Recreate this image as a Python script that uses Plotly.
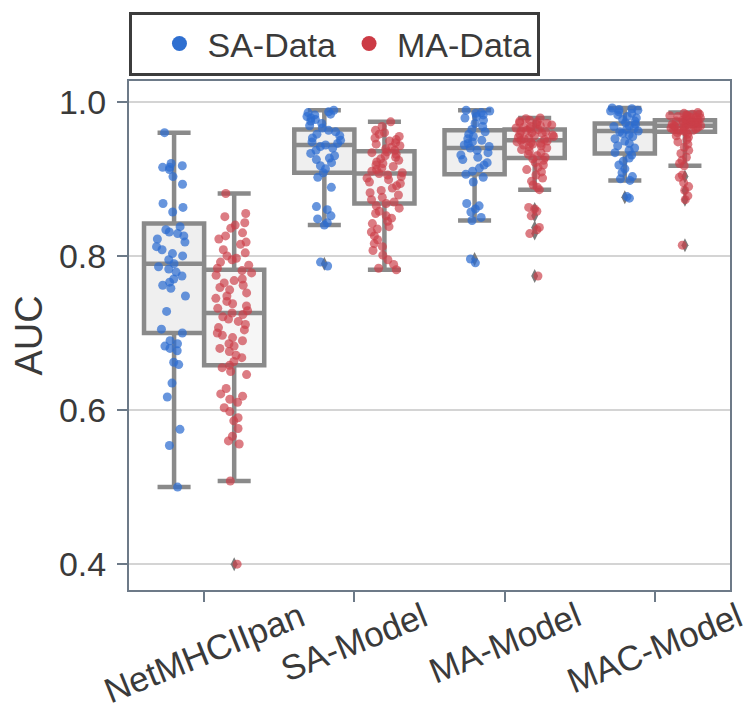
import plotly.graph_objects as go

categories = ["NetMHCIIpan", "SA-Model", "MA-Model", "MAC-Model"]
series_names = ["SA-Data", "MA-Data"]

# ---- box statistics ----
sa_q1 = [0.700, 0.908, 0.906, 0.933]
sa_median = [0.790, 0.944, 0.940, 0.962]
sa_q3 = [0.842, 0.964, 0.963, 0.972]
sa_lower = [0.500, 0.840, 0.846, 0.898]
sa_upper = [0.960, 0.989, 0.989, 0.992]

ma_q1 = [0.658, 0.868, 0.927, 0.961]
ma_median = [0.726, 0.907, 0.950, 0.969]
ma_q3 = [0.782, 0.936, 0.964, 0.976]
ma_lower = [0.508, 0.782, 0.886, 0.917]
ma_upper = [0.881, 0.974, 0.979, 0.986]

# ---- outliers (fliers) ----
sa_out_net = []
sa_out_sa = [0.790]
sa_out_ma = [0.796]
sa_out_mac = [0.876]
ma_out_net = [0.400]
ma_out_sa = []
ma_out_ma = [0.861, 0.852, 0.837, 0.829, 0.774]
ma_out_mac = [0.903, 0.885, 0.873, 0.814]

# ---- individual points (SA-Data) ----
sa_pts_net = [0.960, 0.920, 0.917, 0.915, 0.915, 0.912, 0.903, 0.893, 0.868, 0.863, 0.857, 0.838,
              0.834, 0.831, 0.829, 0.826, 0.822, 0.818, 0.812, 0.808, 0.803, 0.800, 0.795, 0.790,
              0.786, 0.783, 0.779, 0.774, 0.770, 0.766, 0.762, 0.758, 0.748, 0.728, 0.705, 0.700,
              0.690, 0.686, 0.683, 0.680, 0.677, 0.662, 0.659, 0.635, 0.617, 0.575, 0.554, 0.500]
sa_pts_sa = [0.989, 0.987, 0.986, 0.984, 0.983, 0.981, 0.979, 0.977, 0.975, 0.972, 0.969, 0.966,
             0.963, 0.961, 0.958, 0.956, 0.953, 0.950, 0.948, 0.946, 0.944, 0.942, 0.940, 0.937,
             0.933, 0.930, 0.927, 0.925, 0.921, 0.917, 0.913, 0.908, 0.902, 0.889, 0.864, 0.860,
             0.852, 0.848, 0.843, 0.840, 0.792, 0.787]
sa_pts_ma = [0.989, 0.988, 0.986, 0.985, 0.983, 0.981, 0.979, 0.976, 0.972, 0.968, 0.964, 0.961,
             0.958, 0.955, 0.952, 0.950, 0.948, 0.946, 0.944, 0.942, 0.940, 0.937, 0.934, 0.931,
             0.928, 0.925, 0.921, 0.918, 0.914, 0.910, 0.906, 0.902, 0.896, 0.868, 0.865, 0.861,
             0.857, 0.850, 0.846, 0.796, 0.791]
sa_pts_mac = [0.992, 0.991, 0.990, 0.989, 0.988, 0.987, 0.985, 0.983, 0.981, 0.979, 0.977, 0.975,
              0.973, 0.971, 0.969, 0.968, 0.966, 0.964, 0.962, 0.961, 0.959, 0.957, 0.955, 0.952,
              0.949, 0.946, 0.943, 0.940, 0.937, 0.934, 0.931, 0.927, 0.923, 0.918, 0.913, 0.908,
              0.903, 0.900, 0.898, 0.877, 0.875]

# ---- individual points (MA-Data) ----
ma_pts_net = [0.881, 0.855, 0.851, 0.843, 0.840, 0.836, 0.830, 0.826, 0.822, 0.818, 0.815, 0.808,
              0.804, 0.800, 0.797, 0.795, 0.792, 0.788, 0.784, 0.781, 0.778, 0.775, 0.770, 0.768,
              0.765, 0.762, 0.759, 0.756, 0.752, 0.748, 0.745, 0.741, 0.738, 0.735, 0.732, 0.729,
              0.726, 0.724, 0.721, 0.718, 0.715, 0.711, 0.707, 0.704, 0.700, 0.697, 0.694, 0.690,
              0.686, 0.683, 0.680, 0.676, 0.671, 0.668, 0.663, 0.658, 0.655, 0.650, 0.646, 0.628,
              0.621, 0.618, 0.614, 0.610, 0.603, 0.598, 0.590, 0.586, 0.576, 0.566, 0.560, 0.556,
              0.508, 0.400]
ma_pts_sa = [0.974, 0.968, 0.963, 0.960, 0.958, 0.955, 0.953, 0.951, 0.949, 0.947, 0.945, 0.943,
             0.941, 0.939, 0.937, 0.935, 0.934, 0.932, 0.930, 0.928, 0.926, 0.924, 0.922, 0.920,
             0.918, 0.916, 0.914, 0.912, 0.910, 0.908, 0.907, 0.905, 0.903, 0.901, 0.899, 0.896,
             0.894, 0.891, 0.888, 0.885, 0.882, 0.879, 0.876, 0.873, 0.870, 0.868, 0.865, 0.862,
             0.858, 0.855, 0.852, 0.849, 0.845, 0.842, 0.838, 0.835, 0.831, 0.826, 0.821, 0.816,
             0.812, 0.807, 0.801, 0.795, 0.789, 0.784, 0.782]
ma_pts_ma = [0.979, 0.978, 0.976, 0.975, 0.974, 0.973, 0.972, 0.971, 0.970, 0.969, 0.968, 0.967,
             0.966, 0.965, 0.964, 0.963, 0.962, 0.961, 0.960, 0.959, 0.958, 0.957, 0.956, 0.955,
             0.954, 0.953, 0.952, 0.951, 0.950, 0.949, 0.948, 0.947, 0.946, 0.945, 0.944, 0.943,
             0.942, 0.940, 0.938, 0.936, 0.934, 0.932, 0.930, 0.928, 0.926, 0.924, 0.921, 0.918,
             0.915, 0.912, 0.909, 0.905, 0.901, 0.897, 0.892, 0.889, 0.886, 0.863, 0.861, 0.858,
             0.852, 0.837, 0.834, 0.829, 0.774]
ma_pts_mac = [0.986, 0.985, 0.984, 0.984, 0.983, 0.982, 0.982, 0.981, 0.980, 0.980, 0.979, 0.978,
              0.978, 0.977, 0.976, 0.976, 0.975, 0.975, 0.974, 0.973, 0.973, 0.972, 0.971, 0.971,
              0.970, 0.970, 0.969, 0.969, 0.968, 0.968, 0.967, 0.966, 0.966, 0.965, 0.964, 0.963,
              0.963, 0.962, 0.961, 0.960, 0.958, 0.956, 0.954, 0.951, 0.948, 0.945, 0.941, 0.937,
              0.933, 0.928, 0.924, 0.920, 0.917, 0.905, 0.902, 0.895, 0.890, 0.885, 0.878, 0.873,
              0.814]

# ---- styles ----
FONT = "Liberation Sans, Arial, sans-serif"
TEXT = "#3a3a3a"
FRAME = "#6d7a88"
BOX_LINE = "#8a8a8a"
SA_COLOR = "rgba(45,108,208,0.72)"
MA_COLOR = "rgba(204,62,72,0.68)"
SA_LEGEND = "#2f6fd0"
MA_LEGEND = "#cc3b45"
CLEAR = "rgba(0,0,0,0)"


def flatten(groups):
    xs, ys = [], []
    for cat, vals in zip(categories, groups):
        xs += [cat] * len(vals)
        ys += list(vals)
    return xs, ys


fig = go.Figure()

stats = [
    ("SA", sa_q1, sa_median, sa_q3, sa_lower, sa_upper, "#efefef"),
    ("MA", ma_q1, ma_median, ma_q3, ma_lower, ma_upper, "#f6f6f6"),
]
for grp, q1, med, q3, lo, hi, fill in stats:
    fig.add_trace(go.Box(
        x=categories, q1=q1, median=med, q3=q3, lowerfence=lo, upperfence=hi,
        offsetgroup=grp, alignmentgroup="g", boxpoints=False,
        fillcolor=fill, line=dict(color=BOX_LINE, width=4.5), whiskerwidth=0.55,
        showlegend=False, hoverinfo="skip",
    ))

# fliers (diamonds)
outs = [
    ("SA", [sa_out_net, sa_out_sa, sa_out_ma, sa_out_mac]),
    ("MA", [ma_out_net, ma_out_sa, ma_out_ma, ma_out_mac]),
]
for grp, groups in outs:
    xs, ys = flatten(groups)
    fig.add_trace(go.Box(
        x=xs, y=ys, offsetgroup=grp, alignmentgroup="g",
        boxpoints="all", jitter=0, pointpos=0,
        fillcolor=CLEAR, line=dict(color=CLEAR, width=0),
        marker=dict(symbol="diamond-tall", size=10, color="#7b7b7b"),
        showlegend=False, hoverinfo="skip",
    ))

# strip points
pts = [
    ("SA", [sa_pts_net, sa_pts_sa, sa_pts_ma, sa_pts_mac], SA_COLOR),
    ("MA", [ma_pts_net, ma_pts_sa, ma_pts_ma, ma_pts_mac], MA_COLOR),
]
for grp, groups, col in pts:
    xs, ys = flatten(groups)
    fig.add_trace(go.Box(
        x=xs, y=ys, offsetgroup=grp, alignmentgroup="g",
        boxpoints="all", jitter=0.65, pointpos=0,
        fillcolor=CLEAR, line=dict(color=CLEAR, width=0),
        marker=dict(size=9, color=col, line=dict(width=0)),
        showlegend=False, hoverinfo="y",
    ))

# legend entries
for name, col in zip(series_names, [SA_LEGEND, MA_LEGEND]):
    fig.add_trace(go.Scatter(
        x=[None], y=[None], mode="markers", name=name,
        marker=dict(size=15, color=col),
    ))

# rotated category labels, centred on their ticks
for cat in categories:
    fig.add_annotation(
        x=cat, xref="x", y=-0.004, yref="paper", text=cat, showarrow=False,
        textangle=-22, xanchor="center", yanchor="top",
        font=dict(family=FONT, size=35, color=TEXT),
    )

fig.update_layout(
    width=752, height=712,
    margin=dict(l=129, r=22, t=78, b=122, pad=0),
    paper_bgcolor="white", plot_bgcolor="white",
    boxmode="group", boxgap=0.2, boxgroupgap=0.0,
    font=dict(family=FONT, size=33, color=TEXT),
    legend=dict(
        orientation="h", x=0, xanchor="left", y=1.01, yanchor="bottom",
        bordercolor="#3c3c3c", borderwidth=3, bgcolor="white",
        font=dict(family=FONT, size=34, color=TEXT),
        itemsizing="trace", itemwidth=46,
        title=dict(text="&nbsp;", side="left", font=dict(family=FONT, size=34, color=TEXT)),
    ),
    xaxis=dict(
        categoryorder="array", categoryarray=categories, range=[-0.5, 3.5],
        showline=True, mirror=True, linecolor=FRAME, linewidth=2,
        ticks="outside", ticklen=10, tickwidth=2, tickcolor=FRAME,
        showticklabels=False, showgrid=False, zeroline=False,
    ),
    yaxis=dict(
        range=[0.3665, 1.027], tickvals=[0.4, 0.6, 0.8, 1.0], tickformat=".1f",
        showline=True, mirror=True, linecolor=FRAME, linewidth=2,
        ticks="outside", ticklen=10, tickwidth=2, tickcolor=FRAME,
        showgrid=True, gridcolor="#d4d4d4", gridwidth=1.5, zeroline=False,
        tickfont=dict(family=FONT, size=34, color=TEXT), ticklabelstandoff=4,
        title=dict(text="AUC", font=dict(family=FONT, size=38, color=TEXT), standoff=5),
    ),
)

fig.write_html(
    "out.html",
    config={"displayModeBar": False},
    post_script="document.body.style.margin='0px';document.body.style.overflow='hidden';",
)
